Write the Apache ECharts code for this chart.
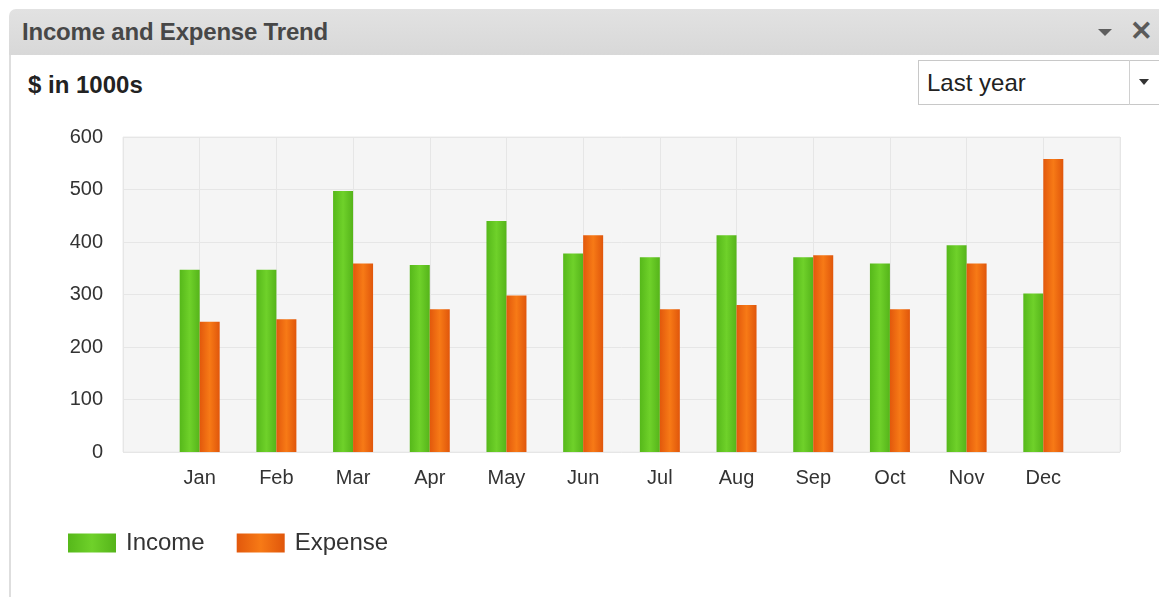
<!DOCTYPE html>
<html>
<head>
<meta charset="utf-8">
<script src="https://cdn.jsdelivr.net/npm/echarts@6/dist/echarts.min.js"></script>
<style>
  html, body { margin: 0; padding: 0; background: #fff; }
  body { width: 1159px; height: 597px; position: relative; overflow: hidden; font-family: "Liberation Sans", Arial, sans-serif; }
  /* panel chrome */
  .panel-head {
    position: absolute; left: 9px; top: 9px; width: 1160px; height: 46px;
    background: linear-gradient(#e2e2e2, #d8d8d8);
    border-radius: 7px 0 0 0;
  }
  .panel-head .title {
    position: absolute; left: 13px; top: 9px; font-size: 24px; font-weight: bold; color: #474747; letter-spacing: -0.2px;
  }
  .panel-head .tri {
    position: absolute; left: 1089px; top: 20px;
    border-left: 7px solid transparent; border-right: 7px solid transparent; border-top: 7px solid #5e5e5e;
  }
  .panel-head .close { position: absolute; left: 1121px; top: 6px; color: #5a5a5a; font-size: 27px; font-weight: bold; }
  .panel-side { position: absolute; left: 9px; top: 55px; width: 2px; height: 542px; background: #dedede; }
  .unit { position: absolute; left: 28px; top: 71px; font-size: 24px; font-weight: bold; color: #222; }
  .select {
    position: absolute; left: 918px; top: 60px; width: 250px; height: 45px;
    border: 1px solid #c8c8c8; border-right: none; box-sizing: border-box; background: #fff;
  }
  .select .txt { position: absolute; left: 8px; top: 8px; font-size: 24px; color: #222; }
  .select .btn { position: absolute; left: 210px; top: -1px; width: 40px; height: 45px; border-left: 1px solid #d0d0d0; }
  .select .btn:after {
    content: ""; position: absolute; left: 9px; top: 19px;
    border-left: 5px solid transparent; border-right: 5px solid transparent; border-top: 6px solid #333;
  }
  #chart1 { position: absolute; left: 0; top: 0; width: 1159px; height: 597px; }
</style>
</head>
<body>
  <div class="panel-head">
    <div class="title">Income and Expense Trend</div>
    <div class="tri"></div>
    <div class="close">&#10005;</div>
  </div>
  <div class="panel-side"></div>
  <div class="unit">$ in 1000s</div>
  <div class="select"><div class="txt">Last year</div><div class="btn"></div></div>
  <!-- 图表容器 -->
  <div id="chart1"></div>

<script>
const months = ["Jan", "Feb", "Mar", "Apr", "May", "Jun", "Jul", "Aug", "Sep", "Oct", "Nov", "Dec"];
const income = [347, 347, 497, 356, 440, 378, 371, 413, 371, 359, 394, 302];
const expense = [248, 253, 359, 272, 298, 413, 272, 280, 375, 272, 359, 558];
const yTicks = [0, 100, 200, 300, 400, 500, 600];

// axis has an empty slot at each end, bars sit on the ticks
const xData = [""].concat(months, [""]);
const pad = (arr) => [null].concat(arr, [null]);

function barColor(c0, c1, c2) {
  return {
    type: "linear", x: 0, y: 0, x2: 1, y2: 0,
    colorStops: [
      { offset: 0, color: c0 },
      { offset: 0.5, color: c1 },
      { offset: 1, color: c2 },
    ],
  };
}

const myChart1 = echarts.init(document.getElementById("chart1"));
myChart1.setOption({
  animation: false,
  textStyle: { fontFamily: "Liberation Sans, Arial, sans-serif" },
  grid: {
    left: 123, top: 137, width: 997, height: 315,
    show: true, backgroundColor: "#f5f5f5", borderColor: "#ebebeb", borderWidth: 1,
  },
  legend: {
    left: 68, top: 531, padding: 0,
    itemWidth: 48, itemHeight: 19, itemGap: 32,
    icon: "rect",
    textStyle: { fontSize: 24, color: "#333", padding: [0, 0, 0, 5] },
    data: ["Income", "Expense"],
  },
  xAxis: {
    type: "category",
    data: xData,
    boundaryGap: false,
    axisLine: { show: false },
    axisTick: { show: false },
    axisLabel: { fontSize: 20, color: "#333", margin: 16 },
    splitLine: { show: true, lineStyle: { color: "#e6e6e6" } },
  },
  yAxis: {
    type: "value",
    min: yTicks[0],
    max: yTicks[yTicks.length - 1],
    interval: 100,
    axisLine: { show: false },
    axisTick: { show: false },
    axisLabel: { fontSize: 20, color: "#333", margin: 20 },
    splitLine: { lineStyle: { color: "#e6e6e6" } },
  },
  series: [
    {
      name: "Income",
      type: "bar",
      data: pad(income),
      barWidth: 20,
      barGap: "0%",
      itemStyle: { color: barColor("#56b81a", "#6fd12a", "#55b41a") },
    },
    {
      name: "Expense",
      type: "bar",
      data: pad(expense),
      barWidth: 20,
      itemStyle: { color: barColor("#e2580c", "#f77a16", "#e0560b") },
    },
  ],
});
</script>
</body>
</html>
